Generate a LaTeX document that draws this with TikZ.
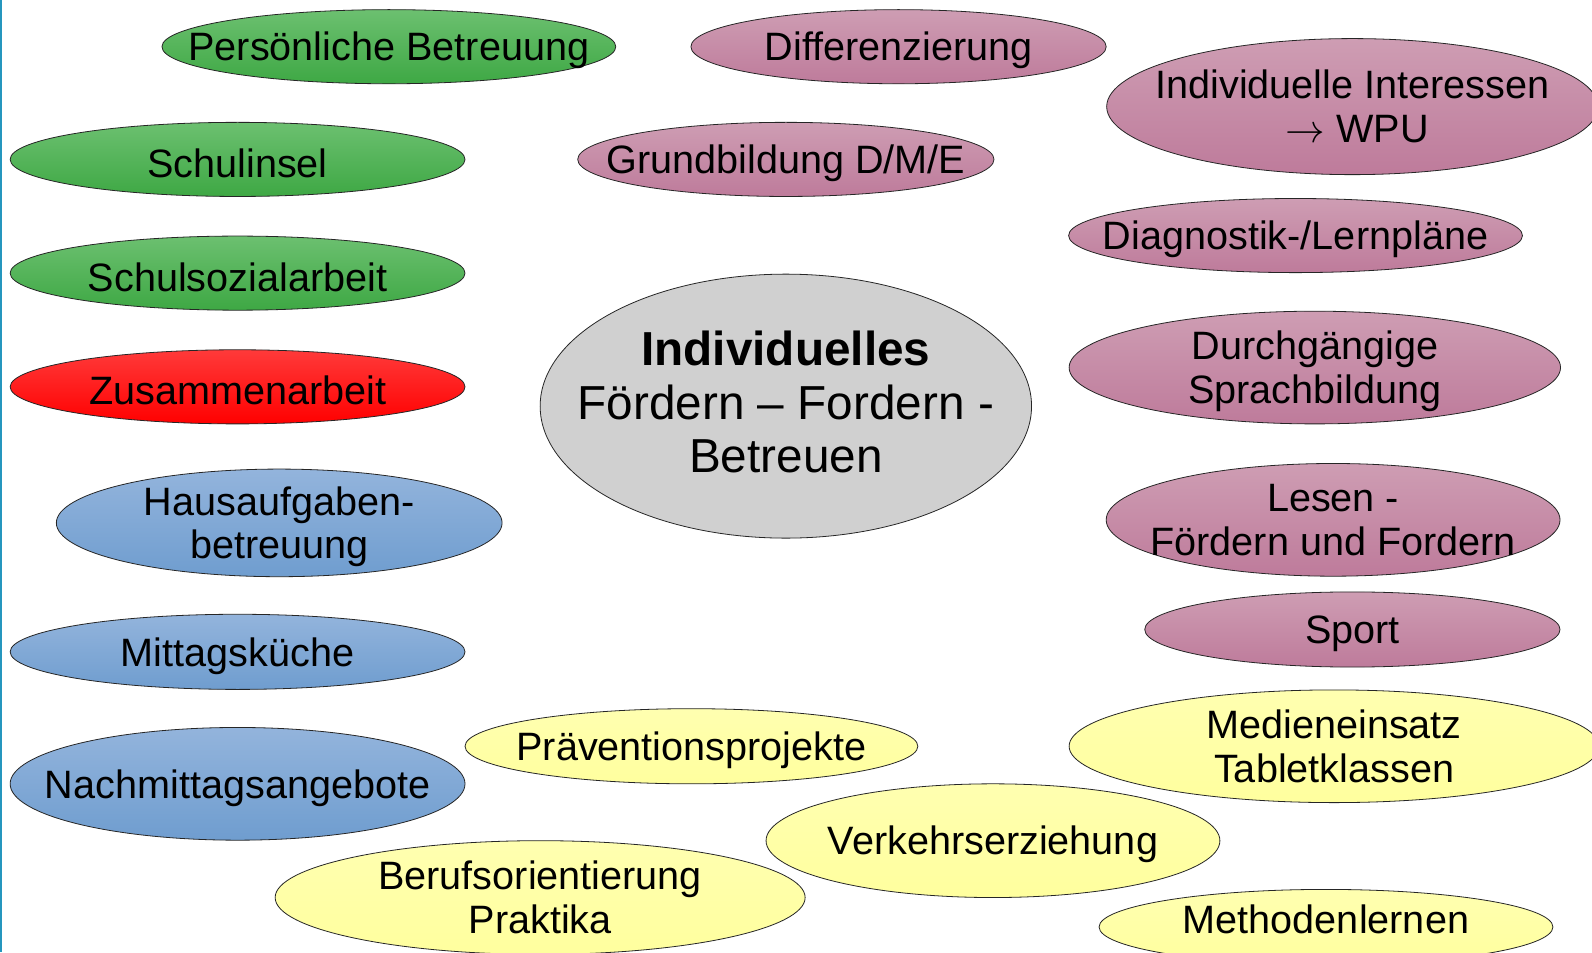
\documentclass[tikz,border=0pt]{standalone}
\usepackage{graphicx}
\usepackage{fontspec}
\setmainfont{Liberation Sans}
\usetikzlibrary{shapes.geometric}
\definecolor{grT}{HTML}{6CC070}
\definecolor{grB}{HTML}{3EA844}
\definecolor{mvT}{HTML}{CE9DB3}
\definecolor{mvB}{HTML}{BE7B9B}
\definecolor{rdT}{HTML}{FF3A3A}
\definecolor{rdB}{HTML}{FF0000}
\definecolor{blT}{HTML}{93B4DC}
\definecolor{blB}{HTML}{6F9DCF}
\definecolor{ylT}{HTML}{FFFFB0}
\definecolor{ylB}{HTML}{FFFF9E}
\definecolor{gyF}{HTML}{D0D0D0}
\definecolor{edgeline}{HTML}{2596BE}
\tikzset{
  bub/.style={ellipse, draw=black!85, line width=0.8pt, inner sep=0pt},
  grbub/.style={top color=grT, bottom color=grB},
  mvbub/.style={top color=mvT, bottom color=mvB},
  rdbub/.style={top color=rdT, bottom color=rdB},
  blbub/.style={top color=blT, bottom color=blB},
  ylbub/.style={top color=ylT, bottom color=ylB},
  gybub/.style={fill=gyF},
  lbl/.style={align=center, inner sep=0pt, font=\fontsize{39.6}{43.7}\selectfont},
  biglbl/.style={align=center, inner sep=0pt, font=\fontsize{47.7}{53.8}\selectfont},
}
\newcommand\bub[8]{%
  \node[bub,#2,minimum width={2*#5*1.0153pt},minimum height={2*#6*1.0153pt}] (#1) at (#3,#4) {};
  \node[lbl,yshift=#8] (#1-t) at (#1) {#7};}
\begin{document}
\begin{tikzpicture}[x=1.0153pt,y=-1.0153pt]
\useasboundingbox (0,0) rectangle (1568,938);
\clip (0,0) rectangle (1568,938);
\fill[white] (0,0) rectangle (1568,938);
\fill[edgeline] (0,0) rectangle (1.8,938);
% green
\bub{pb}{grbub}{383}{46}{223.5}{36.5}{Persönliche Betreuung}{-4pt}
\bub{si}{grbub}{234}{157}{224}{36.5}{Schulinsel}{-4pt}
\bub{ss}{grbub}{234}{269}{224}{36.5}{Schulsozialarbeit}{-4pt}
% red
\bub{za}{rdbub}{234}{381}{224}{36.5}{Zusammenarbeit}{-4pt}
% blue
\bub{ha}{blbub}{275}{515}{219.5}{53}{Hausaufgaben-\\betreuung}{-4pt}
\bub{mk}{blbub}{234}{642}{224}{37}{Mittagsküche}{-4pt}
\bub{na}{blbub}{234}{772}{224}{55.5}{Nachmittagsangebote}{-4pt}
% mauve
\bub{di}{mvbub}{885}{46}{204.5}{36.5}{Differenzierung}{-4pt}
\bub{gb}{mvbub}{774}{157}{205}{36.5}{Grundbildung D/M/E}{-4pt}
\bub{ii}{mvbub}{1332}{105}{242}{67}{Individuelle Interessen\\\hspace*{10pt}\smash{\scalebox{1.59}{$\rightarrow$}} WPU}{0pt}
\bub{dl}{mvbub}{1276}{232}{223.5}{36.5}{Diagnostik-/Lernpläne}{-4pt}
\bub{ds}{mvbub}{1295}{362}{242}{55.5}{Durchgängige\\Sprachbildung}{-4pt}
\bub{le}{mvbub}{1313}{512}{223.5}{55.5}{Lesen -\\Fördern und Fordern}{0pt}
\bub{sp}{mvbub}{1332}{620}{204.5}{37}{Sport}{-4pt}
% yellow
\bub{pp}{ylbub}{681}{735}{223}{37}{Präventionsprojekte}{-4pt}
\bub{me}{ylbub}{1314}{735}{261}{55.5}{Medieneinsatz\\Tabletklassen}{0pt}
\bub{ve}{ylbub}{978}{828}{223.5}{56}{Verkehrserziehung}{-4pt}
\bub{bo}{ylbub}{532}{884}{261}{56}{Berufsorientierung\\Praktika}{0pt}
\bub{ml}{ylbub}{1306}{913}{223.5}{37}{Methodenlernen}{8pt}
% centre
\node[bub,gybub,minimum width={2*242*1.0153pt},minimum height={2*130*1.0153pt}] (c) at (774,400) {};
\node[biglbl] (c-t) at (774,396) {{\bfseries Individuelles}\\Fördern – Fordern -\\Betreuen};
\end{tikzpicture}
\end{document}
